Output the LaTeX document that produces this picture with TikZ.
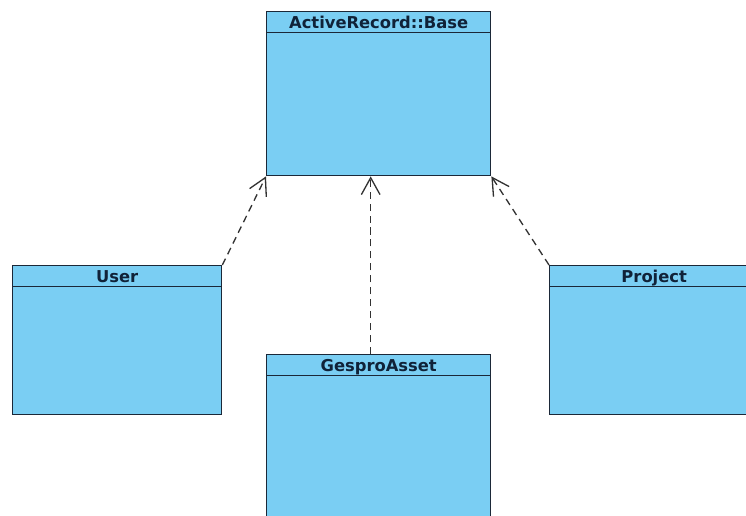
\documentclass[tikz,border=0pt]{standalone}
\usepackage{fontspec}
\setmainfont{DejaVu Sans}
\usetikzlibrary{arrows.meta}

\definecolor{boxblue}{RGB}{122,206,243}
\definecolor{boxline}{RGB}{27,40,56}
\definecolor{titletext}{RGB}{16,34,56}
\definecolor{depline}{RGB}{50,50,50}

\tikzset{
  classbox/.style={draw=boxline, fill=boxblue, line width=0.8pt, inner sep=0pt, anchor=north west},
  classtitle/.style={draw=boxline, line width=0.8pt, inner sep=0pt, anchor=north, minimum height=0.42cm,
    text height=1.55ex, text depth=0.3ex,
    text=titletext, font=\fontsize{9.3}{11}\selectfont\bfseries},
  dependency/.style={draw=depline, line width=0.75pt, dash pattern=on 4pt off 2.8pt,
    -{Straight Barb[length=9.6pt, width=10.6pt]}}
}

\begin{document}
\begin{tikzpicture}[x=0.02cm, y=-0.02cm]
    \useasboundingbox (0, 0) rectangle (746, 516);
    \clip (0, 0) rectangle (746, 516);

    % class boxes
    \node[classbox, minimum width=4.48cm, minimum height=3.28cm] (base) at (266, 11) {};
    \node[classtitle, minimum width=4.48cm] (base-title) at (base.north) {ActiveRecord::Base};

    \node[classbox, minimum width=4.18cm, minimum height=2.98cm] (user) at (12, 265) {};
    \node[classtitle, minimum width=4.18cm] (user-title) at (user.north) {User};

    \node[classbox, minimum width=4.18cm, minimum height=2.98cm] (project) at (549, 265) {};
    \node[classtitle, minimum width=4.18cm] (project-title) at (project.north) {Project};

    \node[classbox, minimum width=4.48cm, minimum height=3.28cm] (asset) at (266, 354) {};
    \node[classtitle, minimum width=4.48cm] (asset-title) at (asset.north) {GesproAsset};

    % dependencies
    \draw[dependency] (user.north east) -- (base.south west);
    \draw[dependency] ([xshift=-0.16cm]asset.north) -- ([xshift=-0.16cm]base.south);
    \draw[dependency] (project.north west) -- (base.south east);

\end{tikzpicture}
\end{document}
